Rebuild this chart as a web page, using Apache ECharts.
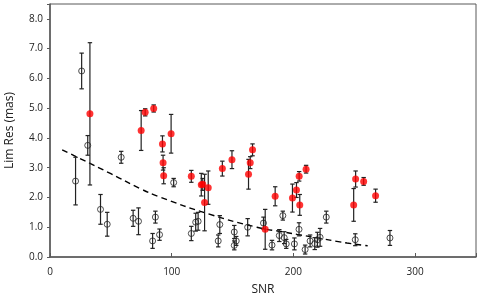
<!DOCTYPE html>
<html>
<head>
<meta charset="utf-8">
<script src="https://cdn.jsdelivr.net/npm/echarts@6/dist/echarts.min.js"></script>
<style>
html,body{margin:0;padding:0;background:#fff;}
#chart{width:480px;height:297px;}
</style>
</head>
<body>
<div id="chart"></div>
<script>
// Open (black) points: SNR, Lim Res, error
var openX = [21, 26, 31, 41.5, 47, 58.5, 68.3, 72.7, 84.3, 86.6, 90, 101.6, 116.1, 119.7, 121.7, 138.2, 139.5, 151.4, 151.4, 153, 162.4, 175.4, 182.4, 188.4, 191.3, 192.4, 194.1, 200.8, 204.6, 209.6, 213.7, 217.5, 219.7, 221.9, 227, 250.8, 279.3];
var openY = [2.55, 6.25, 3.75, 1.6, 1.1, 3.35, 1.3, 1.2, 0.54, 1.34, 0.75, 2.5, 0.79, 1.17, 1.2, 0.54, 1.09, 0.84, 0.39, 0.54, 1.0, 1.14, 0.4, 0.72, 1.39, 0.65, 0.44, 0.44, 0.93, 0.25, 0.54, 0.45, 0.58, 0.66, 1.34, 0.58, 0.64];
var openErr = [0.8, 0.6, 0.33, 0.5, 0.4, 0.2, 0.27, 0.45, 0.25, 0.2, 0.19, 0.14, 0.24, 0.3, 0.3, 0.2, 0.3, 0.22, 0.15, 0.15, 0.29, 0.2, 0.16, 0.2, 0.15, 0.2, 0.15, 0.2, 0.22, 0.15, 0.2, 0.2, 0.25, 0.3, 0.2, 0.2, 0.25];

// Red (filled) points
var redX = [32.8, 74.9, 78.2, 85.2, 92.4, 92.9, 93.4, 99.5, 116.1, 124.3, 125.5, 127, 130, 141.6, 149.5, 163.1, 164.5, 166.4, 176.8, 185, 199.2, 202.5, 204.7, 205.2, 210.4, 249.5, 251.1, 257.7, 267.5];
var redY = [4.81, 4.25, 4.86, 4.99, 3.8, 3.17, 2.73, 4.14, 2.71, 2.43, 2.44, 1.83, 2.33, 2.97, 3.27, 2.78, 3.17, 3.6, 0.93, 2.04, 1.98, 2.25, 2.71, 1.75, 2.95, 1.75, 2.62, 2.54, 2.06];
var redErr = [2.39, 0.67, 0.12, 0.12, 0.27, 0.25, 0.27, 0.65, 0.2, 0.38, 0.2, 0.95, 0.56, 0.25, 0.3, 0.5, 0.2, 0.2, 0.67, 0.32, 0.47, 0.25, 0.16, 0.35, 0.13, 0.55, 0.27, 0.13, 0.22];

// Dashed trend curve
var trendX = [10, 50, 74, 90, 130, 170, 192, 203, 216, 244, 261];
var trendY = [3.6, 2.8, 2.3, 2.02, 1.45, 1.0, 0.84, 0.76, 0.67, 0.47, 0.38];

var xTicks = [0, 100, 200, 300];
var yTicks = [0, 1, 2, 3, 4, 5, 6, 7, 8];

function zip3(a, b, c) { return a.map(function (v, i) { return [v, b[i], c[i]]; }); }
function zip2(a, b) { return a.map(function (v, i) { return [v, b[i]]; }); }

function errRender(params, api) {
  var x = api.value(0), y = api.value(1), e = api.value(2);
  var t = api.coord([x, y + e]);
  var b = api.coord([x, y - e]);
  var cw = 2.2;
  var st = { stroke: '#222', lineWidth: 1.2 };
  return {
    type: 'group',
    children: [
      { type: 'line', shape: { x1: t[0], y1: t[1], x2: b[0], y2: b[1] }, style: st },
      { type: 'line', shape: { x1: t[0] - cw, y1: t[1], x2: t[0] + cw, y2: t[1] }, style: st },
      { type: 'line', shape: { x1: b[0] - cw, y1: b[1], x2: b[0] + cw, y2: b[1] }, style: st }
    ]
  };
}

var FONT = 'Open Sans';
var chart = echarts.init(document.getElementById('chart'), null, { renderer: 'canvas' });
chart.setOption({
  animation: false,
  backgroundColor: '#fff',
  grid: { left: 50, right: 4, top: 4, bottom: 40, show: true, borderColor: '#595959', borderWidth: 1,
          containLabel: false, outerBoundsMode: 'none' },
  xAxis: {
    type: 'value', min: 0, max: 350, interval: 100,
    name: 'SNR', nameLocation: 'middle', nameGap: 27,
    nameTextStyle: { fontFamily: FONT, fontSize: 12, color: '#222' },
    axisLine: { show: true, onZero: false, lineStyle: { color: '#595959', width: 1.5 } },
    axisTick: { show: true, inside: true, length: 4, lineStyle: { color: '#595959' } },
    axisLabel: {
      margin: 10, fontFamily: FONT, fontSize: 10, color: '#222',
      formatter: function (v) { return xTicks.indexOf(v) >= 0 ? String(v) : ''; }
    },
    splitLine: { show: false }
  },
  yAxis: {
    type: 'value', min: 0, max: 8.5, interval: 1,
    name: 'Lim Res (mas)', nameLocation: 'middle', nameGap: 34, nameRotate: 90,
    nameTextStyle: { fontFamily: FONT, fontSize: 12, color: '#222' },
    axisLine: { show: true, lineStyle: { color: '#595959', width: 1.5 } },
    axisTick: { show: true, inside: false, length: 3, lineStyle: { color: '#595959' } },
    axisLabel: {
      margin: 7, fontFamily: FONT, fontSize: 10, color: '#222',
      formatter: function (v) { return yTicks.indexOf(v) >= 0 ? v.toFixed(1) : ''; }
    },
    splitLine: { show: false }
  },
  series: [
    {
      type: 'line', data: zip2(trendX, trendY), showSymbol: false, smooth: true,
      lineStyle: { color: '#000', width: 1.4, type: [6, 4] }, z: 2
    },
    {
      type: 'custom', data: zip3(openX, openY, openErr), renderItem: errRender, z: 3
    },
    {
      type: 'scatter', data: zip2(openX, openY), symbol: 'circle', symbolSize: 6,
      itemStyle: { color: 'rgba(255,255,255,0)', borderColor: '#222', borderWidth: 1 }, z: 4
    },
    {
      type: 'custom', data: zip3(redX, redY, redErr), renderItem: errRender, z: 5
    },
    {
      type: 'scatter', data: zip2(redX, redY), symbol: 'circle', symbolSize: 7,
      itemStyle: { color: '#ff0000', borderWidth: 0 }, z: 6
    }
  ]
});
</script>
</body>
</html>
